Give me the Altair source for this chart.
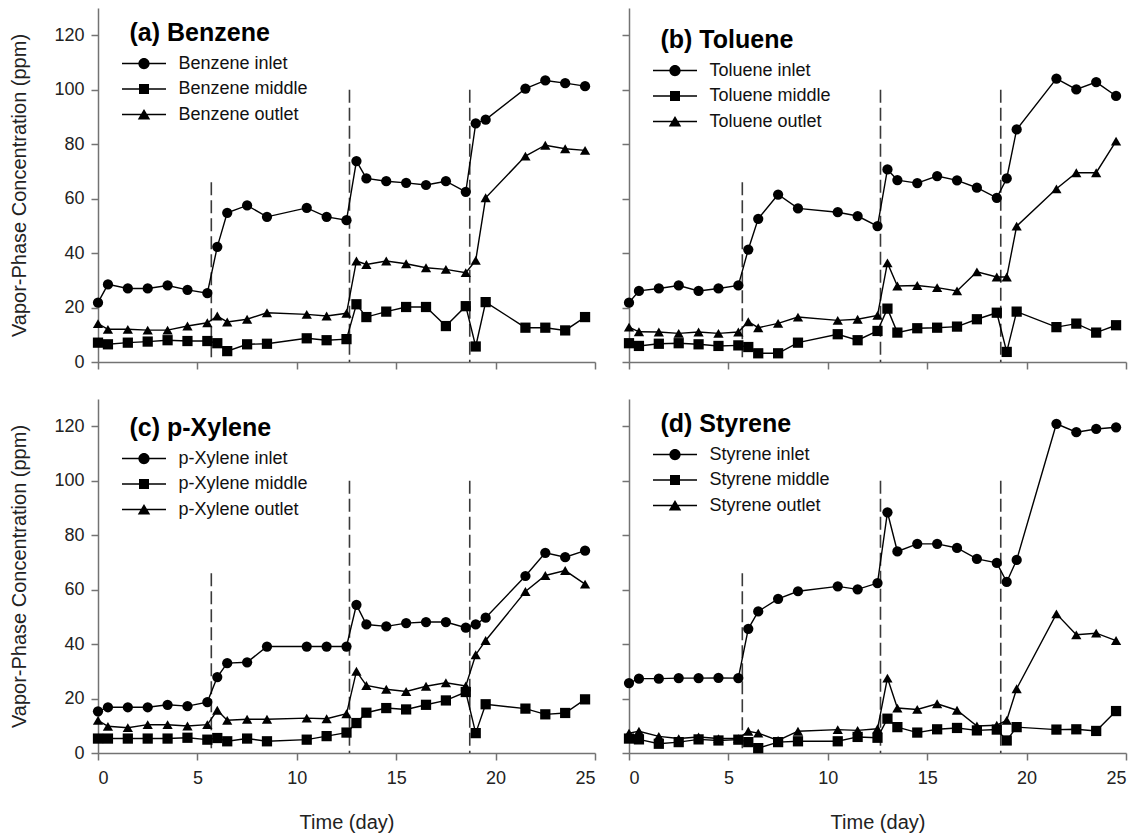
import altair as alt
import pandas as pd

# ---------------- data ----------------
days = [0, 0.5, 1.5, 2.5, 3.5, 4.5, 5.5, 6, 6.5, 7.5, 8.5, 10.5, 11.5, 12.5,
        13, 13.5, 14.5, 15.5, 16.5, 17.5, 18.5, 19, 19.5, 21.5, 22.5, 23.5, 24.5]

benzene_inlet = [21.8, 28.5, 27.0, 27.0, 28.1, 26.5, 25.3, 42.3, 54.8, 57.5, 53.3, 56.6, 53.3, 52.1,
                 73.8, 67.4, 66.4, 65.8, 65.0, 66.4, 62.5, 87.6, 89.0, 100.4, 103.4, 102.4, 101.3]
benzene_middle = [7.1, 6.5, 7.1, 7.5, 8.0, 7.7, 7.7, 6.9, 4.0, 6.5, 6.7, 8.7, 8.0, 8.4,
                  21.2, 16.5, 18.5, 20.2, 20.2, 13.2, 20.5, 5.7, 22.0, 12.6, 12.6, 11.6, 16.5]
benzene_outlet = [14.1, 12.0, 12.0, 11.7, 11.7, 13.2, 14.4, 16.9, 14.7, 15.7, 18.1, 17.5, 16.9, 17.9,
                  37.1, 35.8, 37.1, 36.1, 34.6, 34.0, 32.8, 37.3, 60.3, 75.6, 79.6, 78.3, 77.7]

toluene_inlet = [21.8, 26.1, 27.0, 28.1, 26.1, 27.0, 28.1, 41.3, 52.6, 61.5, 56.4, 55.0, 53.6, 49.9,
                 70.7, 66.8, 65.7, 68.3, 66.7, 64.0, 60.3, 67.4, 85.4, 104.1, 100.1, 102.8, 97.7]
toluene_middle = [6.9, 5.9, 6.7, 6.9, 6.5, 5.9, 6.1, 5.5, 3.2, 3.2, 7.1, 10.2, 8.0, 11.4,
                  19.6, 10.8, 12.4, 12.6, 13.0, 15.7, 18.1, 3.7, 18.5, 12.8, 14.1, 10.8, 13.5]
toluene_outlet = [12.8, 11.1, 11.0, 10.5, 11.0, 10.5, 11.0, 14.8, 12.6, 14.2, 16.5, 15.3, 15.7, 17.1,
                  36.4, 27.9, 28.1, 27.3, 26.1, 33.1, 31.2, 31.2, 49.9, 63.6, 69.5, 69.5, 81.1]

xylene_inlet = [15.3, 16.8, 16.8, 16.8, 17.7, 17.2, 18.7, 27.9, 33.0, 33.3, 39.1, 39.1, 39.1, 39.1,
                54.4, 47.2, 46.5, 47.7, 48.1, 48.1, 46.0, 47.2, 49.7, 65.0, 73.5, 71.9, 74.3]
xylene_middle = [5.3, 5.3, 5.3, 5.3, 5.3, 5.6, 4.9, 5.5, 4.3, 5.3, 4.3, 4.9, 6.2, 7.5,
                 11.0, 14.8, 16.5, 16.0, 17.7, 19.3, 22.4, 7.3, 17.9, 16.3, 14.2, 14.7, 19.7]
xylene_outlet = [12.0, 9.8, 9.3, 10.4, 10.4, 9.9, 10.4, 15.7, 12.0, 12.4, 12.4, 12.8, 12.6, 14.4,
                 30.0, 24.8, 23.4, 22.6, 24.5, 25.8, 24.6, 36.1, 41.3, 59.3, 65.2, 67.0, 62.0]

styrene_inlet = [25.7, 27.3, 27.3, 27.5, 27.5, 27.6, 27.5, 45.6, 52.0, 56.6, 59.4, 61.2, 60.1, 62.4,
                 88.4, 74.0, 76.8, 76.8, 75.3, 71.3, 69.8, 62.8, 70.9, 120.9, 117.8, 119.0, 119.6]
styrene_middle = [5.3, 5.0, 3.4, 4.0, 5.0, 4.6, 4.9, 4.0, 1.8, 4.0, 4.3, 4.3, 5.9, 5.6,
                  12.6, 9.5, 7.5, 8.7, 9.2, 8.3, 8.6, 4.6, 9.5, 8.6, 8.7, 8.1, 15.4]
styrene_outlet = [7.3, 8.0, 6.1, 5.3, 5.9, 5.3, 5.3, 8.0, 7.3, 4.6, 8.0, 8.6, 8.3, 8.9,
                  27.5, 16.5, 16.0, 18.1, 15.7, 9.9, 10.2, 12.0, 23.6, 51.1, 43.4, 44.0, 41.3]

compounds = ["Benzene", "Toluene", "p-Xylene", "Styrene"]
panel_titles = ["(a) Benzene", "(b) Toluene", "(c) p-Xylene", "(d) Styrene"]
positions = ["inlet", "middle", "outlet"]
series_values = {
    "Benzene": [benzene_inlet, benzene_middle, benzene_outlet],
    "Toluene": [toluene_inlet, toluene_middle, toluene_outlet],
    "p-Xylene": [xylene_inlet, xylene_middle, xylene_outlet],
    "Styrene": [styrene_inlet, styrene_middle, styrene_outlet],
}

# loading changes (vertical dashed lines)
change_days = [5.7, 12.65, 18.7]
change_tops = [66, 100, 100]

# tick labels
y_ticks = [0, 20, 40, 60, 80, 100, 120]
x_ticks = [0, 5, 10, 15, 20, 25]

# ---------------- styling ----------------
FONT = "Liberation Sans, Arial, Helvetica, sans-serif"
W, H = 497, 354
AXIS_GRAY = "#737373"

# legend symbols: a short line with the marker on it
LINE = "M-1.76,-0.06H1.76V0.06H-1.76Z"
legend_paths = [
    LINE + "M-0.45,0A0.45,0.45,0,1,1,0.45,0A0.45,0.45,0,1,1,-0.45,0Z",
    LINE + "M-0.4,-0.4H0.4V0.4H-0.4Z",
    LINE + "M0,-0.44L0.5,0.4H-0.5Z",
]
legend_offsets_y = [13, 20, 17, 13]

rules_df = pd.DataFrame({"day": change_days, "top": change_tops})


def panel(i):
    comp = compounds[i]
    rows = []
    for pos, vals in zip(positions, series_values[comp]):
        for d, v in zip(days, vals):
            rows.append({"day": d, "conc": v, "series": pos, "label": f"{comp} {pos}"})
    df = pd.DataFrame(rows)
    labels = [f"{comp} {p}" for p in positions]

    is_left = i % 2 == 0
    is_bottom = i >= 2

    x_enc = alt.X(
        "day:Q",
        scale=alt.Scale(domain=[0, 25], nice=False, zero=False),
        axis=alt.Axis(
            values=x_ticks,
            labels=is_bottom,
            title="Time (day)" if is_bottom else None,
            grid=False,
        ),
    )
    y_enc = alt.Y(
        "conc:Q",
        scale=alt.Scale(domain=[0, 130], nice=False),
        axis=alt.Axis(
            values=y_ticks,
            labels=is_left,
            title="Vapor-Phase Concentration (ppm)" if is_left else None,
            grid=False,
        ),
    )

    base = alt.Chart(df)
    lines = base.mark_line(color="black", strokeWidth=1.4).encode(
        x=x_enc, y=y_enc, detail="series:N", order="day:Q"
    )
    points = base.mark_point(filled=True, color="black", opacity=1, size=105).encode(
        x="day:Q",
        y="conc:Q",
        shape=alt.Shape(
            "series:N",
            scale=alt.Scale(domain=positions, range=["circle", "square", "triangle-up"]),
            legend=None,
        ),
    )
    legend_layer = base.transform_filter("false").mark_point(
        filled=True, color="black", opacity=1
    ).encode(
        x="day:Q",
        y="conc:Q",
        shape=alt.Shape(
            "label:N",
            scale=alt.Scale(domain=labels, range=legend_paths),
            legend=alt.Legend(
                title=panel_titles[i],
                orient="none",
                legendX=31.5,
                legendY=legend_offsets_y[i],
                padding=0,
                titleFont=FONT,
                titleFontSize=25,
                titleFontWeight="bold",
                titleColor="black",
                titlePadding=5,
                titleLimit=400,
                titleAnchor="start",
                labelFont=FONT,
                labelFontSize=18,
                labelColor="#111",
                labelOffset=22,
                labelLimit=400,
                symbolSize=625,
                symbolOffset=2,
                symbolFillColor="black",
                symbolStrokeWidth=0,
                rowPadding=3.5,
            ),
        ),
    )
    rules = alt.Chart(rules_df).mark_rule(
        color="#3a3a3a", strokeWidth=1.6, strokeDash=[13, 5]
    ).encode(x="day:Q", y="top:Q", y2=alt.datum(0))

    return (
        alt.layer(rules, lines, points, legend_layer)
        .resolve_scale(shape="independent")
        .properties(width=W, height=H)
    )


chart = (
    alt.concat(*[panel(i) for i in range(4)], columns=2, spacing={"row": 28, "column": 25})
    .properties(padding={"left": 1, "top": 0, "right": 2, "bottom": 2})
    .configure_view(stroke=None)
    .configure_axis(
        domainColor=AXIS_GRAY,
        domainWidth=1.5,
        tickColor=AXIS_GRAY,
        tickWidth=1.5,
        tickSize=7,
        labelFont=FONT,
        labelFontSize=18,
        labelColor="#222",
        titleFont=FONT,
        titleFontSize=20,
        titleFontWeight="normal",
        titleColor="#222",
    )
    .configure_axisY(labelPadding=7, titlePadding=24)
    .configure_axisX(labelPadding=9, titlePadding=25)
)

chart.save("out.html", embed_options={"renderer": "svg", "actions": False})
